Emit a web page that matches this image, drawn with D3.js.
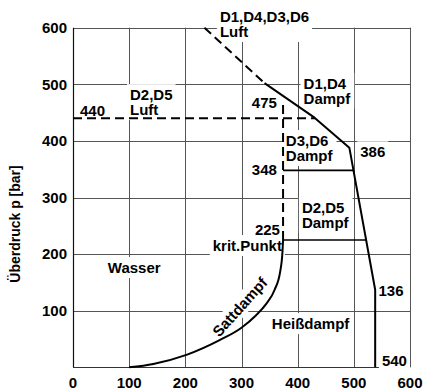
<!DOCTYPE html>
<html>
<head>
<meta charset="utf-8">
<script src="https://cdn.jsdelivr.net/npm/d3@7"></script>
<style>
  body { margin: 0; background: #fff; }
  svg { display: block; font-family: "Liberation Sans", Arial, sans-serif; font-weight: bold; }
</style>
</head>
<body>
<svg id="chart" width="423" height="390"></svg>
<script>
// temperature [°C] on x, Überdruck p [bar] on y
const xTicks = [0, 100, 200, 300, 400, 500, 600];
const yTicks = [100, 200, 300, 400, 500, 600];

// saturation curve (Sattdampf)
const sattdampf = [[100, 0], [143, 6], [202, 22], [261, 48], [300, 70], [326, 92], [344, 112], [359, 137], [369, 170], [373, 205], [374, 225]];

// limit curve: dashed part (Luft) and solid part (Dampf)
const grenzeLuft = [[234, 600], [341, 502]];
const grenzeDampf = [[341, 502], [430, 441], [492, 388], [538, 137], [538, 0]];

const luftD2D5 = 440;       // horizontal dashed limit
const kritT = 374;          // critical temperature
const kritP = 225;
const kritTop = 470;        // top of dashed vertical
const dampfStufen = [348, 225];  // solid horizontal steps

const labels = [
  { t: ['440'], T: 12.5, p: 444 },
  { t: ['D2,D5', 'Luft'], T: 101.5, p: 472 },
  { t: ['D1,D4,D3,D6', 'Luft'], T: 261.5, p: 610 },
  { t: ['D1,D4', 'Dampf'], T: 410.5, p: 492 },
  { t: ['475'], T: 363, p: 458, anchor: 'end' },
  { t: ['D3,D6', 'Dampf'], T: 379, p: 391 },
  { t: ['386'], T: 511.5, p: 371 },
  { t: ['348'], T: 363, p: 339, anchor: 'end' },
  { t: ['D2,D5', 'Dampf'], T: 407.5, p: 272.5 },
  { t: ['225'], T: 368.5, p: 234, anchor: 'end' },
  { t: ['krit.Punkt'], T: 372, p: 205.5, anchor: 'end' },
  { t: ['Wasser'], T: 62, p: 166.5 },
  { t: ['136'], T: 544, p: 126 },
  { t: ['Heißdampf'], T: 354, p: 67.5 },
  { t: ['540'], T: 550, p: 2.3 },
];

const svg = d3.select('#chart');
const margin = { top: 27.7, right: 13, bottom: 22.7, left: 73 };
const W = 423 - margin.left - margin.right;
const H = 390 - margin.top - margin.bottom;

const x = d3.scaleLinear().domain([0, 600]).range([margin.left, margin.left + W]);
const y = d3.scaleLinear().domain([0, 600]).range([margin.top + H, margin.top]);

// grid
const grid = svg.append('g').attr('stroke', '#555').attr('stroke-width', 1);
grid.selectAll('line.v').data(xTicks.slice(1)).join('line')
  .attr('x1', d => Math.round(x(d)) + 0.5).attr('x2', d => Math.round(x(d)) + 0.5)
  .attr('y1', y(600)).attr('y2', y(0));
grid.selectAll('line.h').data(yTicks).join('line')
  .attr('x1', x(0)).attr('x2', x(600))
  .attr('y1', d => Math.round(y(d)) + 0.5).attr('y2', d => Math.round(y(d)) + 0.5);

// axes lines
svg.append('line').attr('x1', Math.round(x(0)) + 0.5).attr('x2', Math.round(x(0)) + 0.5)
  .attr('y1', y(600)).attr('y2', y(0)).attr('stroke', '#111').attr('stroke-width', 1.2);
svg.append('line').attr('x1', x(0)).attr('x2', x(600))
  .attr('y1', Math.round(y(0)) + 0.5).attr('y2', Math.round(y(0)) + 0.5).attr('stroke', '#333').attr('stroke-width', 1);

// tick labels
svg.append('g').selectAll('text').data(xTicks).join('text')
  .attr('x', d => x(d)).attr('y', 388)
  .attr('text-anchor', 'middle').attr('font-size', 15).text(d => d);
svg.append('g').selectAll('text').data(yTicks).join('text')
  .attr('x', 67).attr('y', d => y(d)).attr('dy', '0.35em')
  .attr('text-anchor', 'end').attr('font-size', 15).text(d => d);

svg.append('text')
  .attr('transform', `translate(20,224) rotate(-90)`)
  .attr('text-anchor', 'middle').attr('font-size', 14)
  .text('Überdruck p [bar]');

// label backgrounds first, so they hide the grid but not the curves
const bgLayer = svg.append('g');
const lineLayer = svg.append('g');
const textLayer = svg.append('g');

const lineGen = d3.line().x(d => x(d[0])).y(d => y(d[1]));

// temperature on the limit curve at pressure p
function limitT(p) {
  const pts = grenzeDampf;
  for (let i = 0; i < pts.length - 1; i++) {
    const [t0, p0] = pts[i], [t1, p1] = pts[i + 1];
    if ((p - p0) * (p - p1) <= 0 && p0 !== p1) return t0 + (p - p0) / (p1 - p0) * (t1 - t0);
  }
  return pts[pts.length - 1][0];
}

lineLayer.append('path')
  .attr('d', d3.line().x(d => x(d[0])).y(d => y(d[1])).curve(d3.curveMonotoneX)(sattdampf))
  .attr('fill', 'none').attr('stroke', '#000').attr('stroke-width', 2);

lineLayer.append('path').attr('d', lineGen(grenzeDampf))
  .attr('fill', 'none').attr('stroke', '#000').attr('stroke-width', 2).attr('stroke-linejoin', 'round');
lineLayer.append('path').attr('d', lineGen(grenzeLuft))
  .attr('fill', 'none').attr('stroke', '#000').attr('stroke-width', 2).attr('stroke-dasharray', '9,5');

lineLayer.append('path').attr('d', lineGen([[0, luftD2D5], [limitT(luftD2D5), luftD2D5]]))
  .attr('fill', 'none').attr('stroke', '#000').attr('stroke-width', 2).attr('stroke-dasharray', '9,5');
lineLayer.append('path').attr('d', lineGen([[kritT, kritP], [kritT, kritTop]]))
  .attr('fill', 'none').attr('stroke', '#000').attr('stroke-width', 2).attr('stroke-dasharray', '9,5');

lineLayer.selectAll('path.step').data(dampfStufen).join('path')
  .attr('class', 'step')
  .attr('d', p => lineGen([[kritT, p], [limitT(p), p]]))
  .attr('fill', 'none').attr('stroke', '#000').attr('stroke-width', 1.6);

// text labels
labels.forEach(l => {
  const g = textLayer.append('g');
  l.t.forEach((s, i) => {
    g.append('text')
      .attr('x', x(l.T)).attr('y', y(l.p) + i * 15)
      .attr('text-anchor', l.anchor || 'start')
      .attr('font-size', 15).text(s);
  });
  const b = g.node().getBBox();
  bgLayer.append('rect').attr('x', b.x - 3).attr('y', b.y - 2)
    .attr('width', b.width + 6).attr('height', b.height + 4).attr('fill', '#fff');
});

// Sattdampf label along the curve
const sg = textLayer.append('g').attr('transform', `translate(${x(297)},${y(106.5)}) rotate(-48)`);
sg.append('text').attr('text-anchor', 'middle').attr('dy', '0.35em').attr('font-size', 15).text('Sattdampf');
const sb = sg.node().getBBox();
bgLayer.append('rect').attr('transform', `translate(${x(297)},${y(106.5)}) rotate(-48)`)
  .attr('x', sb.x - 2).attr('y', sb.y - 1).attr('width', sb.width + 4).attr('height', sb.height + 2).attr('fill', '#fff');
</script>
</body>
</html>
